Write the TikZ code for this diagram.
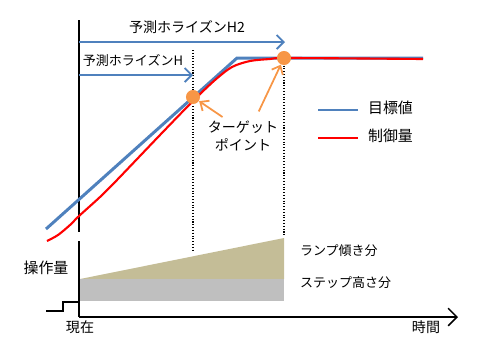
\documentclass[tikz,border=0pt]{standalone}
\usepackage{fontspec}
\setmainfont{Noto Sans CJK JP}
\usepackage{tikz}
\usetikzlibrary{arrows.meta}
\definecolor{refblue}{HTML}{4F81BD}
\definecolor{ptorange}{HTML}{F79646}
\definecolor{rampfill}{HTML}{C4BD97}
\definecolor{stepfill}{HTML}{BFBFBF}
\tikzset{
  target/.style={
    draw=refblue,
    line width=1.7pt
    },
  control/.style={
    draw=red,
    line width=1.2pt
    },
  horizon/.style={
    draw=refblue,
    line width=1.1pt,
    -{Straight Barb[length=4pt,width=8pt]}
    },
  pointer/.style={
    draw=ptorange,
    line width=1pt,
    shorten <=1pt,
    -{Straight Barb[length=4pt,width=7pt]}
    },
  tpoint/.style={
    circle,
    fill=ptorange,
    minimum size=8pt,
    inner sep=0pt
    },
  lbl/.style={
    font=\fontsize{8}{10.5}\selectfont,
    inner sep=1pt,
    align=center
    },
  small/.style={font=\fontsize{7.4}{9}\selectfont},
  guide/.style={densely dotted, line width=0.6pt},
  axis/.style={line width=0.9pt},
}

\begin{document}
\begin{tikzpicture}[x=0.02cm, y=-0.02cm]
  \useasboundingbox (0,0) rectangle (480,360);

  % axes
  \coordinate (top) at (79,20);
  \coordinate (gapA) at (79,232);
  \coordinate (gapB) at (79,241);
  \coordinate (origin) at (79,317);
  \coordinate (tend) at (458,317);
  \draw[axis] (top) -- (gapA);
  \draw[axis] (gapB) -- (origin);
  \draw[axis, -{Straight Barb[length=5pt,width=10pt]}] (origin) -- (tend);

  % guide lines of the horizons
  \coordinate (g1t) at (193,50);
  \coordinate (g1b) at (193,252);
  \coordinate (g2t) at (284,60);
  \coordinate (g2b) at (284,236);
  \draw[guide] (g1t) -- (g1b);
  \draw[guide] (g2t) -- (g2b);

  % horizons
  \coordinate (h2a) at (79,42);
  \coordinate (h2b) at (285,42);
  \coordinate (h1a) at (79,75);
  \coordinate (h1b) at (193,75);
  \draw[horizon] (h2a) -- (h2b);
  \draw[horizon] (h1a) -- (h1b);
  \node[lbl] (hz2) at (187,27) {予測ホライズンH2};
  \node[lbl, small] (hz1) at (133,61) {予測ホライズンH};

  % reference and controlled value
  \draw[target] (46,229) -- (237,58) -- (423,58);
  \draw[control] plot[smooth, tension=0.5] coordinates {
    (47,241) (58,235) (70,225) (79,216) (100,197) (117,180) (160,135)
    (193,101) (215,80) (232,67) (250,61) (270,59) (290,58) (423,59)};

  % target points
  \node[tpoint] (tp1) at (193,97) {};
  \node[tpoint] (tp2) at (284,58) {};
  \node[lbl] (tpl) at (243,136) {ターゲット\\ポイント};
  \coordinate (p1) at (224,118);
  \coordinate (p2) at (258,113);
  \draw[pointer] (p1) -- (tp1);
  \draw[pointer] (p2) -- (tp2);

  % legend
  \coordinate (lb1) at (318,110);
  \coordinate (lb2) at (358,110);
  \coordinate (lr1) at (318,138);
  \coordinate (lr2) at (358,138);
  \draw[target, line width=1.4pt] (lb1) -- (lb2);
  \draw[control] (lr1) -- (lr2);
  \node[lbl, font=\fontsize{8.5}{10}\selectfont, anchor=west] (lgb) at (366,108) {目標値};
  \node[lbl, font=\fontsize{8.5}{10}\selectfont, anchor=west] (lgr) at (366,136) {制御量};

  % manipulated value
  \fill[rampfill] (80,279) -- (284,238) -- (284,279) -- cycle;
  \fill[stepfill] (80,279) rectangle (284,301);
  \draw[line width=0.8pt] (46,311) -- (63,311) -- (63,302) -- (79,302);
  \node[lbl, font=\fontsize{8.5}{10}\selectfont] (mv) at (46,268) {操作量};
  \node[lbl, small, anchor=west] (ramp) at (298,251) {ランプ傾き分};
  \node[lbl, small, anchor=west] (step) at (298,283) {ステップ高さ分};

  % time labels
  \node[lbl] (now) at (80,327) {現在};
  \node[lbl] (time) at (426,327) {時間};
\end{tikzpicture}
\end{document}
